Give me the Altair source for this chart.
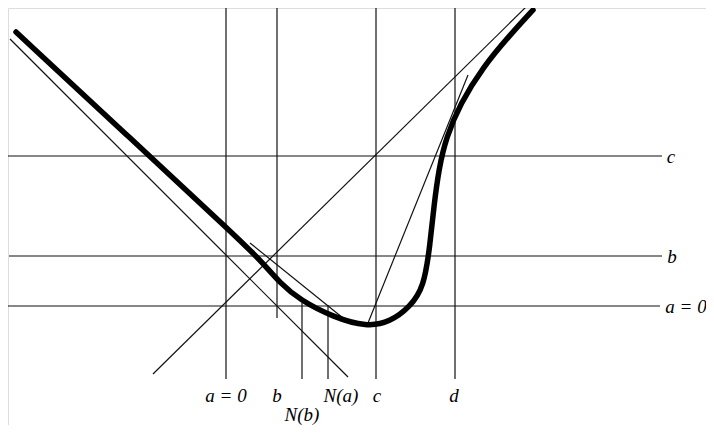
import altair as alt
import pandas as pd

# Thick curve (read in picture coordinates), smoothed with basis interpolation
curve_x = [16, 130, 240, 262, 280, 300, 333, 367, 390, 410, 424, 430, 434, 439, 446, 460, 483, 510, 533]
curve_y = [32, 138, 240, 262, 283, 300, 317, 327, 322, 307, 287, 245, 205, 168, 138, 104, 67, 35, 10]

# Thin straight lines: x1, y1, x2, y2
seg_x1 = [226, 277, 302, 328, 376, 455, 7, 9, 6, 10, 153, 250, 368]
seg_y1 = [8, 8, 303, 305, 8, 8, 156, 256, 306, 39, 374, 243, 323]
seg_x2 = [226, 277, 302, 328, 376, 455, 662, 662, 660, 348, 527, 343, 468]
seg_y2 = [379, 318, 379, 379, 379, 379, 156, 256, 306, 377, 6, 318, 75]

# Labels
lab_text = ["c", "b", "a = 0", "a = 0", "b", "N(a)", "c", "d", "N(b)"]
lab_x = [671, 672, 686, 226, 277, 341, 377, 454, 302]
lab_y = [157, 257, 307, 396, 396, 396, 396, 396, 415]

curve = pd.DataFrame({"x": curve_x, "y": curve_y, "o": range(len(curve_x))})
segs = pd.DataFrame({"x": seg_x1, "y": seg_y1, "x2": seg_x2, "y2": seg_y2})
labs = pd.DataFrame({"t": lab_text, "x": lab_x, "y": lab_y})

xs = alt.Scale(domain=[8, 706], nice=False, zero=False)
ys = alt.Scale(domain=[8, 425], nice=False, zero=False, reverse=True)

rules = alt.Chart(segs).mark_rule(color="#111", strokeWidth=1.2).encode(
    x=alt.X("x:Q", scale=xs, axis=None),
    y=alt.Y("y:Q", scale=ys, axis=None),
    x2="x2:Q",
    y2="y2:Q",
)

line = alt.Chart(curve).mark_line(color="#000", strokeWidth=5.5, interpolate="basis", strokeCap="round").encode(
    x=alt.X("x:Q", scale=xs, axis=None),
    y=alt.Y("y:Q", scale=ys, axis=None),
    order="o:Q",
)

text = alt.Chart(labs).mark_text(font="Liberation Serif", fontStyle="italic", fontSize=19, color="#000").encode(
    x=alt.X("x:Q", scale=xs, axis=None),
    y=alt.Y("y:Q", scale=ys, axis=None),
    text="t:N",
)

chart = (rules + line + text).properties(
    width=698, height=417,
    autosize=alt.AutoSizeParams(type="none"),
    padding=0,
).configure_view(stroke=None).configure(background="white")

chart.save("out.html", embed_options={"renderer": "svg", "actions": False})
